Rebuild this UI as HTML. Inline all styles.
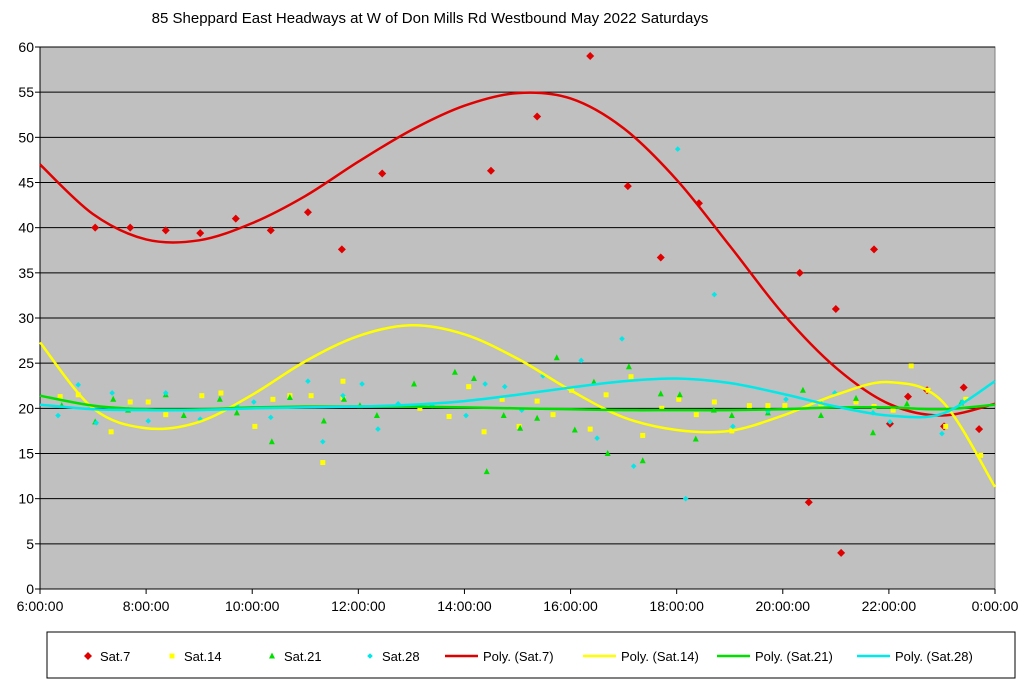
<!DOCTYPE html>
<html><head><meta charset="utf-8"><style>
body{margin:0;background:#fff;}
svg{display:block;font-family:"Liberation Sans",sans-serif;}
</style></head><body>
<svg id="chart" width="1024" height="686"></svg>
<script>
const yTicks=[0,5,10,15,20,25,30,35,40,45,50,55,60];
const xTickHours=[6,8,10,12,14,16,18,20,22,24];
const xTickLabels=["6:00:00","8:00:00","10:00:00","12:00:00","14:00:00","16:00:00","18:00:00","20:00:00","22:00:00","0:00:00"];
const sat7T=[7.04,7.70,8.37,9.02,9.69,10.35,11.05,11.69,12.45,14.50,15.37,16.37,17.08,17.70,18.42,20.32,20.49,21.00,21.10,21.72,22.02,22.36,22.72,23.04,23.41,23.70];
const sat7V=[40,40,39.7,39.4,41,39.7,41.7,37.6,46,46.3,52.3,59,44.6,36.7,42.7,35,9.6,31,4,37.6,18.3,21.3,22,18,22.3,17.7];
const sat14T=[6.38,6.72,7.34,7.70,8.04,8.37,9.05,9.41,10.05,10.39,10.71,11.11,11.33,11.71,11.71,13.16,13.71,14.08,14.37,14.71,15.03,15.37,15.67,16.02,16.37,16.67,17.14,17.36,17.72,18.04,18.37,18.71,19.04,19.37,19.72,20.04,20.72,21.38,21.72,22.08,22.42,22.74,23.07,23.45,23.73];
const sat14V=[21.3,21.5,17.4,20.7,20.7,19.3,21.4,21.7,18,21,21.4,21.4,14,23,21.2,20,19.1,22.4,17.4,21,18,20.8,19.3,22,17.7,21.5,23.5,17,20,21,19.3,20.7,17.5,20.3,20.3,20.3,20.5,20.7,20.2,19.8,24.7,22,18,21,14.8];
const sat21T=[6.41,7.04,7.38,7.66,8.37,8.71,9.39,9.71,10.37,10.71,11.35,11.73,12.03,12.35,13.05,13.82,14.18,14.42,14.74,15.05,15.37,15.74,16.08,16.44,16.70,17.10,17.36,17.70,18.06,18.36,18.70,19.04,19.72,20.38,20.72,21.38,21.70,22.34,23.36];
const sat21V=[20.3,18.5,21,19.8,21.5,19.2,21,19.5,16.3,21.2,18.6,21,20.3,19.2,22.7,24,23.3,13,19.2,17.8,18.9,25.6,17.6,22.9,15,24.6,14.2,21.6,21.5,16.6,19.8,19.2,19.5,22,19.2,21.1,17.3,20.5,20.6];
const sat28T=[6.34,6.72,7.06,7.36,8.04,8.37,9.02,9.71,10.03,10.35,11.05,11.33,11.71,12.07,12.37,12.75,13.39,14.03,14.39,14.76,15.08,15.48,16.20,16.50,16.97,17.19,18.02,18.17,18.71,19.06,19.72,20.06,20.70,20.98,21.70,22.02,23.00,23.39];
const sat28V=[19.2,22.6,18.4,21.7,18.6,21.7,18.8,20.3,20.7,19,23,16.3,21.4,22.7,17.7,20.5,20.3,19.2,22.7,22.4,19.8,23.6,25.3,16.7,27.7,13.6,48.7,10,32.6,18,19.7,21,20.7,21.7,19.5,18.5,17.2,20.7];
const trendT=[6,7,8,9,10,11,12,13,14,15,16,17,18,19,20,21,22,23,24];
const trend7=[47,41.5,38.7,38.6,40.5,43.5,47.3,50.8,53.5,54.9,54.3,51,45.3,38,30.5,24.5,20.5,19.2,20.5];
const trend14=[27.3,20,17.8,18.5,21.5,25.2,28,29.2,28.2,25.5,22,19,17.6,17.5,19.2,21.5,22.9,20.8,11.3];
const trend21=[21.4,20.3,19.9,19.9,20.1,20.2,20.2,20.2,20.1,20,19.9,19.8,19.8,19.8,19.9,20.1,20.1,19.9,20.4];
const trend28=[20.4,19.9,19.8,19.8,20,20.1,20.2,20.4,20.8,21.5,22.3,23,23.3,22.8,21.6,20.2,19.2,19.4,23];

const NS="http://www.w3.org/2000/svg";
const svg=document.getElementById('chart');
const L=40,R=995,T=47,B=589;
const xs=h=>L+(h-6)/18*(R-L);
const ys=v=>B-v/60*(B-T);
function mk(tag,attrs,parent){const e=document.createElementNS(NS,tag);for(const k in attrs)e.setAttribute(k,attrs[k]);(parent||svg).appendChild(e);return e;}

let t=mk('text',{x:430,y:23,'font-size':15,'text-anchor':'middle',fill:'#000'});
t.textContent="85 Sheppard East Headways at W of Don Mills Rd Westbound May 2022  Saturdays";



let bg=mk('rect',{x:L,y:T,width:R-L,height:B-T,fill:'#c0c0c0',stroke:'#808080'});



yTicks.forEach(v=>{
  if(v>0){let g=mk('line',{x1:L,x2:R,y1:ys(v),y2:ys(v),stroke:'#000','stroke-width':1});
  
  }
  mk('line',{x1:L-5,x2:L,y1:ys(v),y2:ys(v),stroke:'#000'});
  let tx=mk('text',{x:L-6,y:ys(v)+5,'font-size':14,'text-anchor':'end'});
  tx.textContent=v;
  
  
});
mk('line',{x1:L,x2:L,y1:T,y2:B,stroke:'#000'});
mk('line',{x1:L,x2:R,y1:B,y2:B,stroke:'#000'});
xTickHours.forEach((h,i)=>{
  mk('line',{x1:xs(h),x2:xs(h),y1:B,y2:B+5,stroke:'#000'});
  let tx=mk('text',{x:xs(h),y:B+22,'font-size':14,'text-anchor':'middle'});
  tx.textContent=xTickLabels[i];
  
  
});

function curve(T_,V,color,name){
  const p=T_.map((h,i)=>[xs(h),ys(V[i])]);
  let d='M'+p[0][0]+','+p[0][1];
  for(let i=0;i<p.length-1;i++){
    const p0=p[Math.max(0,i-1)],p1=p[i],p2=p[i+1],p3=p[Math.min(p.length-1,i+2)];
    const c1=[p1[0]+(p2[0]-p0[0])/6,p1[1]+(p2[1]-p0[1])/6];
    const c2=[p2[0]-(p3[0]-p1[0])/6,p2[1]-(p3[1]-p1[1])/6];
    d+=`C${c1[0]},${c1[1]} ${c2[0]},${c2[1]} ${p2[0]},${p2[1]}`;
  }
  let e=mk('path',{d:d,fill:'none',stroke:color,'stroke-width':2.5});
  
  
}
function marker(shape,x,y,color,parent){
  if(shape==='diamond')return mk('polygon',{points:`${x},${y-4} ${x+4},${y} ${x},${y+4} ${x-4},${y}`,fill:color},parent);
  if(shape==='square')return mk('rect',{x:x-2.5,y:y-2.5,width:5,height:5,fill:color},parent);
  if(shape==='tri')return mk('polygon',{points:`${x},${y-3.5} ${x+3},${y+2.5} ${x-3},${y+2.5}`,fill:color},parent);
  return mk('polygon',{points:`${x},${y-2.8} ${x+2.8},${y} ${x},${y+2.8} ${x-2.8},${y}`,fill:color},parent);
}
function points(T_,V,shape,color,name){
  T_.forEach((h,i)=>{
    let e=marker(shape,xs(h),ys(V[i]),color);
    
    
  });
}
points(sat7T,sat7V,'diamond','#e00000','sat7-point');
points(sat14T,sat14V,'square','#ffff00','sat14-point');
points(sat21T,sat21V,'tri','#00e000','sat21-point');
points(sat28T,sat28V,'small','#00e8e8','sat28-point');
curve(trendT,trend7,'#e00000','trend-sat7');
curve(trendT,trend14,'#ffff00','trend-sat14');
curve(trendT,trend21,'#00e000','trend-sat21');
curve(trendT,trend28,'#00e8e8','trend-sat28');

let lg=mk('rect',{x:47,y:632,width:968,height:46,fill:'#fff',stroke:'#000'});


const legItems=[
 ['diamond','#e00000','Sat.7',88],['square','#ffff00','Sat.14',172],['tri','#00e000','Sat.21',272],['small','#00e8e8','Sat.28',370],
 ['line','#e00000','Poly. (Sat.7)',445],['line','#ffff00','Poly. (Sat.14)',583],['line','#00e000','Poly. (Sat.21)',717],['line','#00e8e8','Poly. (Sat.28)',857]];
legItems.forEach(it=>{
  const g=mk('g',{});
  
  
  const y=656;
  let tx;
  if(it[0]==='line'){
    mk('line',{x1:it[3],x2:it[3]+33,y1:y,y2:y,stroke:it[1],'stroke-width':2.5},g);
    tx=mk('text',{x:it[3]+38,y:y+5,'font-size':13},g);
  } else {
    marker(it[0],it[3],y,it[1],g);
    tx=mk('text',{x:it[3]+12,y:y+5,'font-size':13},g);
  }
  tx.textContent=it[2];
});
</script>
</body></html>
